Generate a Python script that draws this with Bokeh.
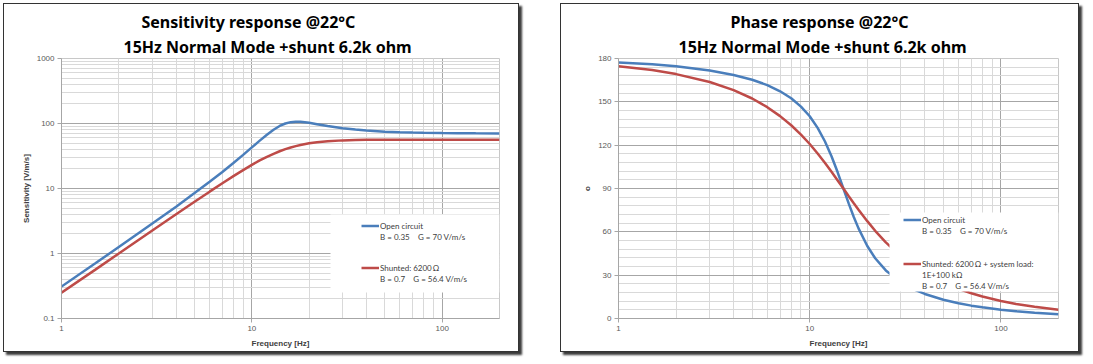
from bokeh.plotting import figure
from bokeh.models import FixedTicker, Title, Legend, LegendItem, BoxAnnotation
from bokeh.layouts import row
from bokeh.embed import file_html
from bokeh.resources import INLINE

# ---------------- data ----------------
freq = [1, 1.5, 2, 3, 4, 5, 6, 7, 8, 9, 10, 11, 12, 13, 14, 15, 16, 17, 18,
        20, 22, 25, 30, 35, 40, 50, 60, 70, 80, 100, 120, 150, 200]
sens_open = [0.31, 0.70, 1.26, 2.89, 5.25, 8.5, 12.7, 18.0, 24.7, 32.9, 42.9,
             54.5, 67.3, 80.2, 91.6, 100.0, 104.9, 106.7, 106.3, 102.4, 97.6,
             91.4, 84.6, 80.6, 77.9, 74.9, 73.4, 72.5, 71.9, 71.2, 70.8, 70.5, 70.3]
sens_shunt = [0.25, 0.56, 1.00, 2.26, 4.01, 6.24, 8.94, 12.05, 15.5, 19.2, 23.1,
              27.0, 30.7, 34.2, 37.4, 40.3, 42.8, 44.9, 46.7, 49.6, 51.5, 53.4,
              55.0, 55.7, 56.0, 56.3, 56.35, 56.4, 56.4, 56.4, 56.4, 56.4, 56.4]
phase_open = [177.3, 176.0, 174.6, 171.7, 168.6, 165.3, 161.6, 157.3, 152.5,
              146.7, 140.0, 132.0, 122.7, 112.3, 101.2, 90.0, 79.5, 70.3, 62.4,
              50.2, 41.7, 33.3, 25.0, 20.2, 17.0, 13.0, 10.6, 8.9, 7.8, 6.1,
              5.1, 4.0, 3.0]
phase_shunt = [174.7, 172.0, 169.2, 163.7, 158.1, 152.3, 146.3, 140.1, 133.8,
               127.3, 120.8, 114.2, 107.8, 101.6, 95.6, 90.0, 84.7, 79.8, 75.3,
               67.4, 60.7, 52.7, 43.0, 36.3, 31.4, 24.8, 20.5, 17.5, 15.2, 12.1,
               10.1, 8.1, 6.0]

x_ticks = [1, 10, 100]
x_tick_labels = ["1", "10", "100"]
x_minor = [2, 3, 4, 5, 6, 7, 8, 9, 20, 30, 40, 50, 60, 70, 80, 90, 200]
sens_ticks = [0.1, 1, 10, 100, 1000]
sens_tick_labels = ["0.1", "1", "10", "100", "1000"]
sens_minor = [0.2, 0.3, 0.4, 0.5, 0.6, 0.7, 0.8, 0.9,
              2, 3, 4, 5, 6, 7, 8, 9,
              20, 30, 40, 50, 60, 70, 80, 90,
              200, 300, 400, 500, 600, 700, 800, 900]
phase_ticks = [0, 30, 60, 90, 120, 150, 180]
phase_minor = list(range(0, 181, 6))

title_line1 = ["Sensitivity response @22\u00b0C", "Phase response @22\u00b0C"]
title_line2 = "15Hz Normal Mode +shunt 6.2k ohm"
open_label = ["Open circuit", "B = 0.35\u00a0\u00a0\u00a0 G = 70 V/m/s"]
shunt_label_left = ["Shunted: 6200\u2009\u03a9", "B = 0.7\u00a0\u00a0\u00a0 G = 56.4 V/m/s"]
shunt_label_right = ["Shunted: 6200\u2009\u03a9 + system load:", "1E+100 k\u03a9",
                     "B = 0.7\u00a0\u00a0\u00a0 G = 56.4 V/m/s"]

BLUE = "#4A7EBB"
RED = "#BE4B48"
TICK_FONT = "Liberation Sans"
LEG_FONT = "Lato"
TITLE_FONT = "Noto Sans"


def style_axes(p, xlabel, ylabel):
    for ax in (p.xaxis, p.yaxis):
        ax.axis_line_color = "#a6a6a6"
        ax.major_tick_line_color = "#a6a6a6"
        ax.major_tick_out = 4
        ax.major_tick_in = 0
        ax.minor_tick_line_color = None
        ax.major_label_text_font = TICK_FONT
        ax.major_label_text_font_size = "8px"
        ax.major_label_text_color = "#595959"
        ax.major_label_standoff = 3
        ax.axis_label_text_font = TICK_FONT
        ax.axis_label_text_font_size = "8px"
        ax.axis_label_text_font_style = "bold"
        ax.axis_label_text_color = "#404040"
    p.xaxis.axis_label = xlabel
    p.yaxis.axis_label = ylabel
    p.xaxis.axis_label_standoff = 5
    p.yaxis.axis_label_standoff = 3
    p.xaxis.ticker = FixedTicker(ticks=x_ticks, minor_ticks=x_minor)
    p.xaxis.major_label_overrides = {t: l for t, l in zip(x_ticks, x_tick_labels)}
    for g in (p.xgrid, p.ygrid):
        g.grid_line_color = "#a6a6a6"
        g.grid_line_width = 1
        g.minor_grid_line_color = "#d9d9d9"
        g.minor_grid_line_width = 1
    p.outline_line_color = "#c8c8c8"
    p.background_fill_color = "white"
    p.border_fill_color = "white"


def add_titles(p, line1, off1, off2):
    t2 = Title(text=title_line2, align="left", offset=off2,
               text_font=TITLE_FONT, text_font_size="16px",
               text_font_style="bold", text_color="#000000",
               text_line_height=0.9, standoff=2)
    t1 = Title(text=line1, align="left", offset=off1,
               text_font=TITLE_FONT, text_font_size="16px",
               text_font_style="bold", text_color="#000000",
               text_line_height=0.9, standoff=0)
    p.add_layout(t2, "above")
    p.add_layout(t1, "above")


def make_legend(items, loc):
    return Legend(items=items, location=loc, padding=0, margin=0, spacing=0,
                  label_height=11, glyph_height=11, glyph_width=18,
                  label_standoff=1, background_fill_alpha=0,
                  border_line_alpha=0, label_text_font=LEG_FONT,
                  label_text_font_size="8px", label_text_color="#404040")


def add_legend(p, r_open, r_shunt, shunt_lines, box, loc_a, loc_b):
    inv = p.line([], [], line_alpha=0)
    bg = BoxAnnotation(left=box[0], right=box[1], bottom=box[2], top=box[3],
                       left_units="screen", right_units="screen",
                       bottom_units="screen", top_units="screen",
                       fill_color="white", fill_alpha=1.0, line_alpha=0)
    p.add_layout(bg)
    items_a = [LegendItem(label=open_label[0], renderers=[r_open]),
               LegendItem(label=open_label[1], renderers=[inv])]
    items_b = [LegendItem(label=shunt_lines[0], renderers=[r_shunt])]
    for s in shunt_lines[1:]:
        items_b.append(LegendItem(label=s, renderers=[inv]))
    p.add_layout(make_legend(items_a, loc_a))
    p.add_layout(make_legend(items_b, loc_b))


FRAME_STYLE = {"border": "1.5px solid #333333",
               "box-shadow": "3px 3px 2px #3a3a3a"}

# ---------------- left: sensitivity ----------------
p1 = figure(width=516, height=349, x_axis_type="log", y_axis_type="log",
            x_range=(1, 200), y_range=(0.1, 1000), title=None,
            output_backend="svg", toolbar_location=None,
            min_border_left=57, min_border_right=21, min_border_top=53,
            min_border_bottom=35)
style_axes(p1, "Frequency [Hz]", "Sensitivity [V/m/s]")
p1.yaxis.ticker = FixedTicker(ticks=sens_ticks, minor_ticks=sens_minor)
p1.yaxis.major_label_overrides = {t: l for t, l in zip(sens_ticks, sens_tick_labels)}
add_titles(p1, title_line1[0], 80, 62)
r1o = p1.line(freq, sens_open, line_color=BLUE, line_width=2.5)
r1s = p1.line(freq, sens_shunt, line_color=RED, line_width=2.5)
add_legend(p1, r1o, r1s, shunt_label_left, (269, 438, 26, 104), (300, 76), (300, 34))
p1.styles = FRAME_STYLE

# ---------------- right: phase ----------------
p2 = figure(width=519, height=349, x_axis_type="log",
            x_range=(1, 200), y_range=(0, 180), title=None,
            output_backend="svg", toolbar_location=None,
            min_border_left=57, min_border_right=22, min_border_top=54,
            min_border_bottom=34)
style_axes(p2, "Frequency [Hz]", "o")
p2.yaxis.ticker = FixedTicker(ticks=phase_ticks, minor_ticks=phase_minor)
add_titles(p2, title_line1[1], 112, 60)
r2o = p2.line(freq, phase_open, line_color=BLUE, line_width=2.5)
r2s = p2.line(freq, phase_shunt, line_color=RED, line_width=2.5)
add_legend(p2, r2o, r2s, shunt_label_right, (271, 440, 27, 106), (285, 82), (285, 27))
p2.styles = FRAME_STYLE

layout = row(p1, p2, spacing=41)
layout.margin = (3, 0, 0, 3)

open("out.html", "w").write(file_html(layout, INLINE))
